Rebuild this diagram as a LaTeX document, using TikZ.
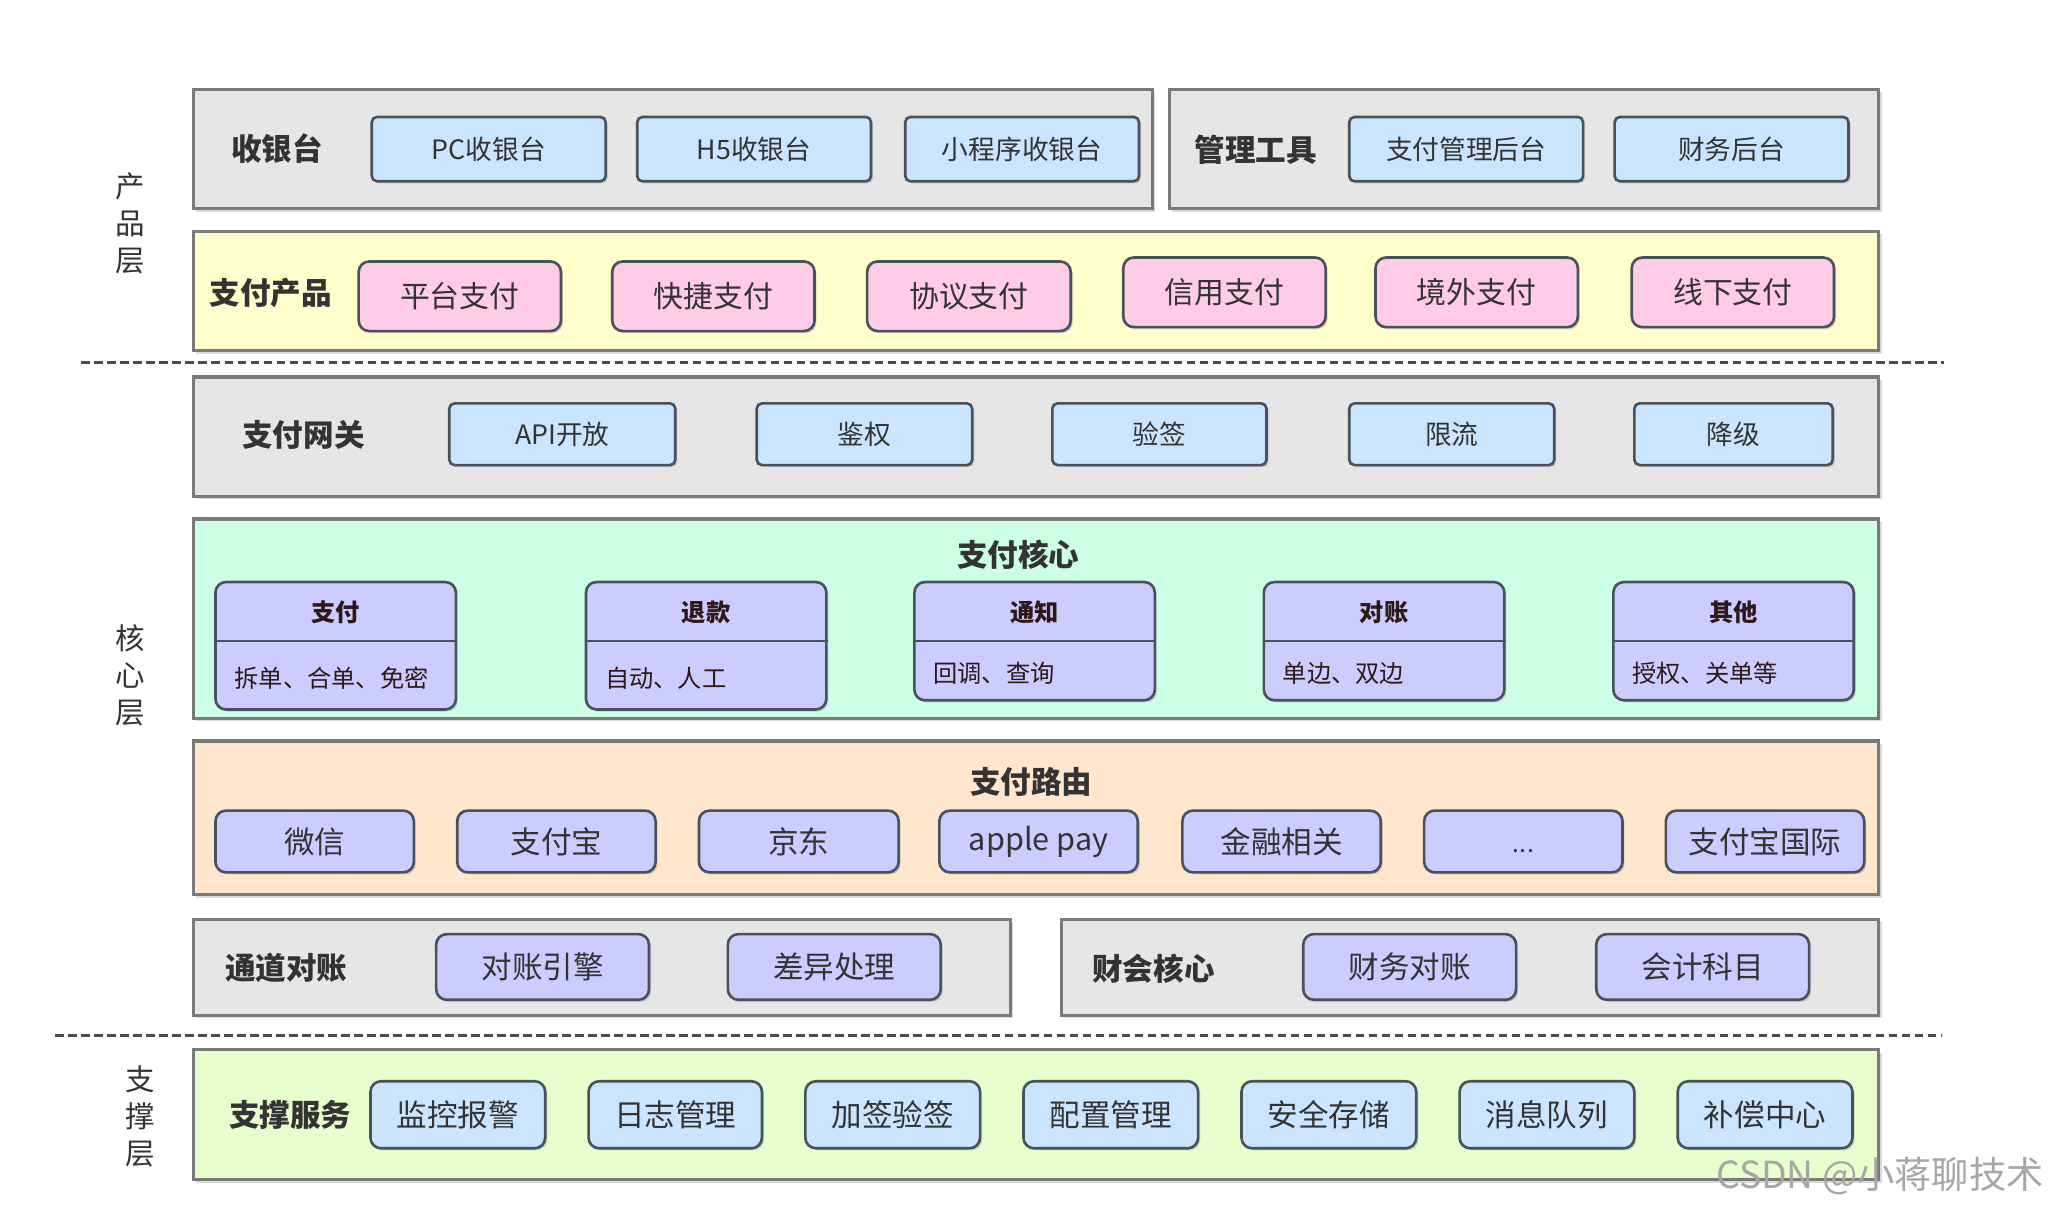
\documentclass[tikz,border=0pt]{standalone}
\usepackage{fontspec}
\setmainfont{Noto Sans CJK SC}
\usepackage{xcolor}
\usetikzlibrary{calc, shadows}

\definecolor{grpgray}{HTML}{E6E6E6}
\definecolor{grpline}{HTML}{7A7A7A}
\definecolor{itemline}{HTML}{48525C}
\definecolor{itemblue}{HTML}{CCE5FF}
\definecolor{itempink}{HTML}{FFCCE6}
\definecolor{itempurple}{HTML}{CCCCFF}
\definecolor{prodyellow}{HTML}{FFFFCC}
\definecolor{coregreen}{HTML}{CCFFE6}
\definecolor{routepeach}{HTML}{FFE6CC}
\definecolor{supportgreen}{HTML}{E6FFCC}
\definecolor{txtgray}{HTML}{333333}
\definecolor{corehd}{HTML}{2E1818}

\tikzset{
	box span/.style n args={4}{minimum width={(#3-#1)*0.013138cm}, minimum height={(#4-#2)*0.013138cm}, at={({(#1+#3)/2},{(#2+#4)/2})}},
	group/.style={draw=grpline, line width=0.9pt, inner sep=0pt, drop shadow={shadow xshift=0.8pt, shadow yshift=-0.8pt, opacity=0.3}},
	item/.style={draw=itemline, line width=0.75pt, rounded corners=1.5pt, inner sep=0pt, text=txtgray, drop shadow={shadow xshift=0.6pt, shadow yshift=-0.6pt, opacity=0.3}},
	bluebox/.style={item, fill=itemblue, font=\fontsize{7.6}{9}\selectfont},
	pinkbox/.style={item, fill=itempink, rounded corners=3pt, font=\fontsize{8.5}{10}\selectfont},
	purplebox/.style={item, fill=itempurple, rounded corners=3pt, font=\fontsize{8.7}{10}\selectfont},
	supportbox/.style={item, fill=itemblue, rounded corners=3pt, font=\fontsize{8.7}{10}\selectfont},
	grplabel/.style={font=\bfseries\fontsize{8.7}{10}\selectfont, text=txtgray, inner sep=0pt},
	corehead/.style={font=\bfseries\fontsize{6.9}{8}\selectfont, text=corehd, inner sep=0pt},
	corebody/.style={font=\fontsize{6.9}{8}\selectfont, text=corehd, inner sep=0pt, anchor=west},
	layerlabel/.style={align=center, font=\fontsize{8.4}{10.5}\selectfont, text=txtgray, inner sep=0pt},
	sepline/.style={draw=black!70, line width=0.7pt, dash pattern=on 2.4pt off 1.3pt},
}

\begin{document}
\begin{tikzpicture}[x=0.013138cm, y=-0.013138cm]
	\useasboundingbox (0,0) rectangle (1568,922.5);
	
	\coordinate (cut1a) at (62,276);
	\coordinate (cut1b) at (1480,276);
	\coordinate (cut2a) at (42,788);
	\coordinate (cut2b) at (1478,788);
	
	\begin{scope}
		\node[layerlabel] (prodlayer) at (99,170) {产\\品\\层};
		\node[layerlabel] (corelayer) at (99,514) {核\\心\\层};
		\node[layerlabel] (suplayer) at (107,850) {支\\撑\\层};
	\end{scope}
	
	\begin{scope}
		\node[group, fill=grpgray, box span={147}{68}{877}{159}] (cashier) {};
		\node[grplabel] (cashierlbl) at (211,113) {收银台};
		\foreach \a/\b/\n/\t in {283/461/pccash/PC收银台, 485/663/hcash/H5收银台, 689/867/minicash/小程序收银台}
			\node[bluebox, box span={\a}{89}{\b}{138}] (\n) {\t};
		
		\node[group, fill=grpgray, box span={890}{68}{1430}{159}] (tools) {};
		\node[grplabel] (toolslbl) at (956,114) {管理工具};
		\foreach \a/\b/\n/\t in {1027/1205/payadmin/支付管理后台, 1229/1407/finadmin/财务后台}
			\node[bluebox, box span={\a}{89}{\b}{138}] (\n) {\t};
	\end{scope}
	
	\begin{scope}
		\node[group, fill=prodyellow, box span={147}{176}{1430}{267}] (product) {};
		\node[grplabel] (productlbl) at (206,223) {支付产品};
		\foreach \a/\b/\y/\n/\t in {273/427/199/platpay/平台支付, 466/620/199/quickpay/快捷支付, 660/815/199/agreepay/协议支付, 855/1009/196/creditpay/信用支付, 1047/1201/196/abroadpay/境外支付, 1242/1396/196/offlinepay/线下支付}
			\node[pinkbox, box span={\a}{\y}{\b}{\y+53}] (\n) {\t};
	\end{scope}
	
	\draw[sepline] (cut1a) -- (cut1b);
	
	\begin{scope}
		\node[group, fill=grpgray, box span={147}{287}{1430}{378}] (gateway) {};
		\node[grplabel] (gatewaylbl) at (231,331) {支付网关};
		\foreach \a/\b/\n/\t in {342/514/openapi/API开放, 576/740/auth/鉴权, 801/964/verify/验签, 1027/1183/limit/限流, 1244/1395/degrade/降级}
			\node[bluebox, box span={\a}{307}{\b}{354}] (\n) {\t};
	\end{scope}
	
	\begin{scope}
		\node[group, fill=coregreen, box span={147}{395}{1430}{547}] (core) {};
		\node[grplabel] (corelbl) at (775,422) {支付核心};
		\foreach \a/\b/\c/\n/\h/\t in {164/347/540/corepay/支付/拆单、合单、免密, 446/629/540/corerefund/退款/自动、人工, 696/879/533/corenotify/通知/回调、查询, 962/1145/533/corecheck/对账/单边、双边, 1228/1411/533/coreother/其他/授权、关单等}
		{
			\node[purplebox, box span={\a}{443}{\b}{\c}] (\n) {};
			\draw[draw=itemline, line width=0.75pt] (\n.west |- 0,488) -- (\n.east |- 0,488);
			\node[corehead] (\n-head) at ({(\a+\b)/2},466) {\h};
			\node[corebody] (\n-body) at (\a+14,{(488+\c)/2+2}) {\t};
		}
	\end{scope}
	
	\begin{scope}
		\node[group, fill=routepeach, box span={147}{564}{1430}{681}] (route) {};
		\node[grplabel] (routelbl) at (785,595) {支付路由};
		\foreach \a/\b/\n/\t in {164/315/wechat/微信, 348/499/alipay/支付宝, 532/684/jd/京东, 715/866/applepay/apple pay, 900/1051/finance/金融相关, 1084/1235/more/{\vphantom{国}\scriptsize.\kern0.2pt.\kern0.2pt.}, 1268/1419/alipayintl/支付宝国际}
			\node[purplebox, box span={\a}{617}{\b}{664}] (\n) {\t};
	\end{scope}
	
	\begin{scope}
		\node[group, fill=grpgray, box span={147}{700}{769}{773}] (chanrecon) {};
		\node[grplabel] (chanreconlbl) at (218,737) {通道对账};
		\foreach \a/\b/\n/\t in {332/494/reconengine/对账引擎, 554/716/diffproc/差异处理}
			\node[purplebox, box span={\a}{711}{\b}{761}] (\n) {\t};
		
		\node[group, fill=grpgray, box span={808}{700}{1430}{773}] (fincore) {};
		\node[grplabel] (fincorelbl) at (878,737) {财会核心};
		\foreach \a/\b/\n/\t in {992/1154/finrecon/财务对账, 1215/1377/subjects/会计科目}
			\node[purplebox, box span={\a}{711}{\b}{761}] (\n) {\t};
	\end{scope}
	
	\draw[sepline] (cut2a) -- (cut2b);
	
	\begin{scope}
		\node[group, fill=supportgreen, box span={147}{799}{1430}{898}] (support) {};
		\node[grplabel] (supportlbl) at (221,849) {支撑服务};
		\foreach \a/\b/\n/\t in {282/415/monitor/监控报警, 448/580/logging/日志管理, 613/746/signing/加签验签, 779/912/config/配置管理, 945/1078/storage/安全存储, 1111/1244/mq/消息队列, 1277/1410/compensate/补偿中心}
			\node[supportbox, box span={\a}{823}{\b}{874}] (\n) {\t};
	\end{scope}
	
	\node[text=black!35, font=\fontsize{10.6}{12}\selectfont, inner sep=0pt] (mark) at (1431,895) {CSDN @小蒋聊技术};
\end{tikzpicture}
\end{document}
